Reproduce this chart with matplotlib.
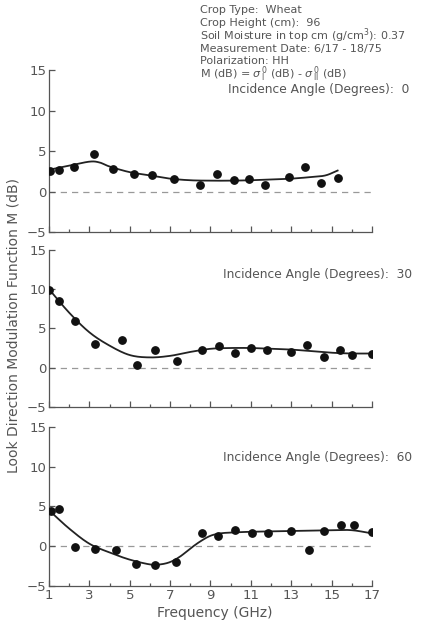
import numpy as np
import matplotlib
matplotlib.use("Agg")
import matplotlib.pyplot as plt
from matplotlib.ticker import MultipleLocator

freq_0 = [1.05, 1.5, 2.25, 3.25, 4.18, 5.23, 6.1, 7.18, 8.5, 9.3, 10.17, 10.9, 11.7, 12.9, 13.7, 14.5, 15.3]
m_0 = [2.6, 2.7, 3.1, 4.7, 2.8, 2.2, 2.05, 1.5, 0.85, 2.2, 1.45, 1.5, 0.85, 1.85, 3.0, 1.1, 1.65]

freq_30 = [1.0, 1.5, 2.3, 3.3, 4.63, 5.38, 6.27, 7.33, 8.58, 9.42, 10.2, 11.0, 11.8, 13.0, 13.8, 14.6, 15.4, 16.0, 17.0]
m_30 = [9.9, 8.5, 6.0, 2.95, 3.55, 0.35, 2.3, 0.8, 2.3, 2.8, 1.9, 2.55, 2.3, 2.05, 2.85, 1.3, 2.2, 1.65, 1.75]

freq_60 = [1.08, 1.47, 2.3, 3.27, 4.3, 5.3, 6.25, 7.27, 8.58, 9.38, 10.2, 11.05, 11.85, 13.0, 13.9, 14.6, 15.45, 16.1, 17.0]
m_60 = [4.4, 4.7, -0.1, -0.4, -0.5, -2.25, -2.4, -2.0, 1.6, 1.3, 2.0, 1.6, 1.7, 1.85, -0.5, 1.9, 2.6, 2.7, 1.75]

# hand-drawn smooth curves (traced knots)
curve_f_0 = [1, 2, 3, 3.5, 4, 5, 6, 7, 8, 9, 10, 11, 12, 13, 14, 14.7, 15.3]
curve_m_0 = [2.7, 3.2, 3.7, 3.6, 3.1, 2.4, 2.0, 1.6, 1.4, 1.35, 1.35, 1.4, 1.5, 1.6, 1.8, 2.0, 2.6]

curve_f_30 = [1, 2, 3, 4, 5, 6, 7, 8, 9, 10, 11, 12, 13, 14, 15, 16, 17]
curve_m_30 = [10.0, 7.0, 4.5, 2.8, 1.6, 1.3, 1.5, 2.0, 2.4, 2.5, 2.5, 2.4, 2.3, 2.1, 1.9, 1.8, 1.8]

curve_f_60 = [1, 2, 3, 4, 5, 6, 6.5, 7, 7.5, 8, 8.5, 9, 9.5, 10, 11, 13, 15, 16, 17]
curve_m_60 = [4.5, 2.2, 0.3, -0.8, -1.7, -2.3, -2.3, -2.0, -1.3, -0.3, 0.6, 1.3, 1.6, 1.7, 1.8, 1.9, 2.0, 2.0, 1.6]

angles = ["0", "30", "60"]

GRAY = "#555555"
plt.rcParams["font.family"] = ["DejaVu Sans"]


def smooth(xs, ys):
    # catmull-rom through the traced knots
    xs = np.asarray(xs, float)
    ys = np.asarray(ys, float)
    px = np.concatenate([[2 * xs[0] - xs[1]], xs, [2 * xs[-1] - xs[-2]]])
    py = np.concatenate([[2 * ys[0] - ys[1]], ys, [2 * ys[-1] - ys[-2]]])
    out_x, out_y = [], []
    t = np.linspace(0, 1, 20, endpoint=False)
    for i in range(1, len(px) - 2):
        p0, p1, p2, p3 = (np.array([px[j], py[j]]) for j in range(i - 1, i + 3))
        for tt in t:
            pt = 0.5 * ((2 * p1) + (-p0 + p2) * tt + (2 * p0 - 5 * p1 + 4 * p2 - p3) * tt ** 2
                        + (-p0 + 3 * p1 - 3 * p2 + p3) * tt ** 3)
            out_x.append(pt[0])
            out_y.append(pt[1])
    out_x.append(xs[-1])
    out_y.append(ys[-1])
    return out_x, out_y


fig = plt.figure(figsize=(4.34, 6.22), dpi=100)
boxes = [[0.113, 0.627, 0.744, 0.260],
         [0.113, 0.346, 0.744, 0.252],
         [0.113, 0.058, 0.744, 0.256]]
data = [(freq_0, m_0, curve_f_0, curve_m_0),
        (freq_30, m_30, curve_f_30, curve_m_30),
        (freq_60, m_60, curve_f_60, curve_m_60)]

axes = []
for i, (box, (fx, my, cf, cm)) in enumerate(zip(boxes, data)):
    ax = fig.add_axes(box)
    axes.append(ax)
    ax.axhline(0, color="#999999", lw=0.9, ls=(0, (5, 4)), zorder=1)
    sx, sy = smooth(cf, cm)
    ax.plot(sx, sy, color="#222222", lw=1.3, zorder=2)
    ax.scatter(fx, my, s=28, color="#111111", zorder=3)
    ax.set_xlim(1, 17)
    ax.set_ylim(-5, 15)
    ax.set_xticks(range(1, 18, 2))
    ax.xaxis.set_minor_locator(MultipleLocator(1))
    ax.yaxis.set_major_locator(MultipleLocator(5))
    for s in ["top", "right"]:
        ax.spines[s].set_visible(False)
    for s in ["left", "bottom"]:
        ax.spines[s].set_color(GRAY)
        ax.spines[s].set_linewidth(0.9)
    ax.tick_params(axis="both", which="major", direction="in", length=4, width=0.9,
                   colors=GRAY, labelsize=9.5, pad=2)
    ax.tick_params(axis="x", which="minor", direction="in", length=2, width=0.9, colors=GRAY)
    if i < 2:
        ax.tick_params(axis="x", labelbottom=False)
    ax.patch.set_alpha(0)

angle_pos = [(0.525, 0.856), (0.513, 0.558), (0.513, 0.265)]
for ang, (xx, yy) in zip(angles, angle_pos):
    fig.text(xx, yy, "Incidence Angle (Degrees):  " + ang, fontsize=8.8, color=GRAY, va="center")

info = ["Crop Type:  Wheat",
        "Crop Height (cm):  96",
        "Soil Moisture in top cm (g/cm$^3$): 0.37",
        "Measurement Date: 6/17 - 18/75",
        "Polarization: HH",
        r"M (dB) = $\sigma^{\,0}_{\,\mathrm{I}}$ (dB) - $\sigma^{\,0}_{\,\mathrm{II}}$ (dB)"]
ys_info = [0.984, 0.9635, 0.943, 0.9215, 0.902, 0.8805]
for line, yy in zip(info, ys_info):
    fig.text(0.461, yy, line, fontsize=8, color=GRAY, va="center")

fig.text(0.03, 0.477, "Look Direction Modulation Function M (dB)", rotation=90,
         fontsize=10, color=GRAY, ha="center", va="center")
fig.text(0.495, 0.014, "Frequency (GHz)", fontsize=10, color=GRAY, ha="center", va="center")

fig.savefig("out.png", dpi=100)
